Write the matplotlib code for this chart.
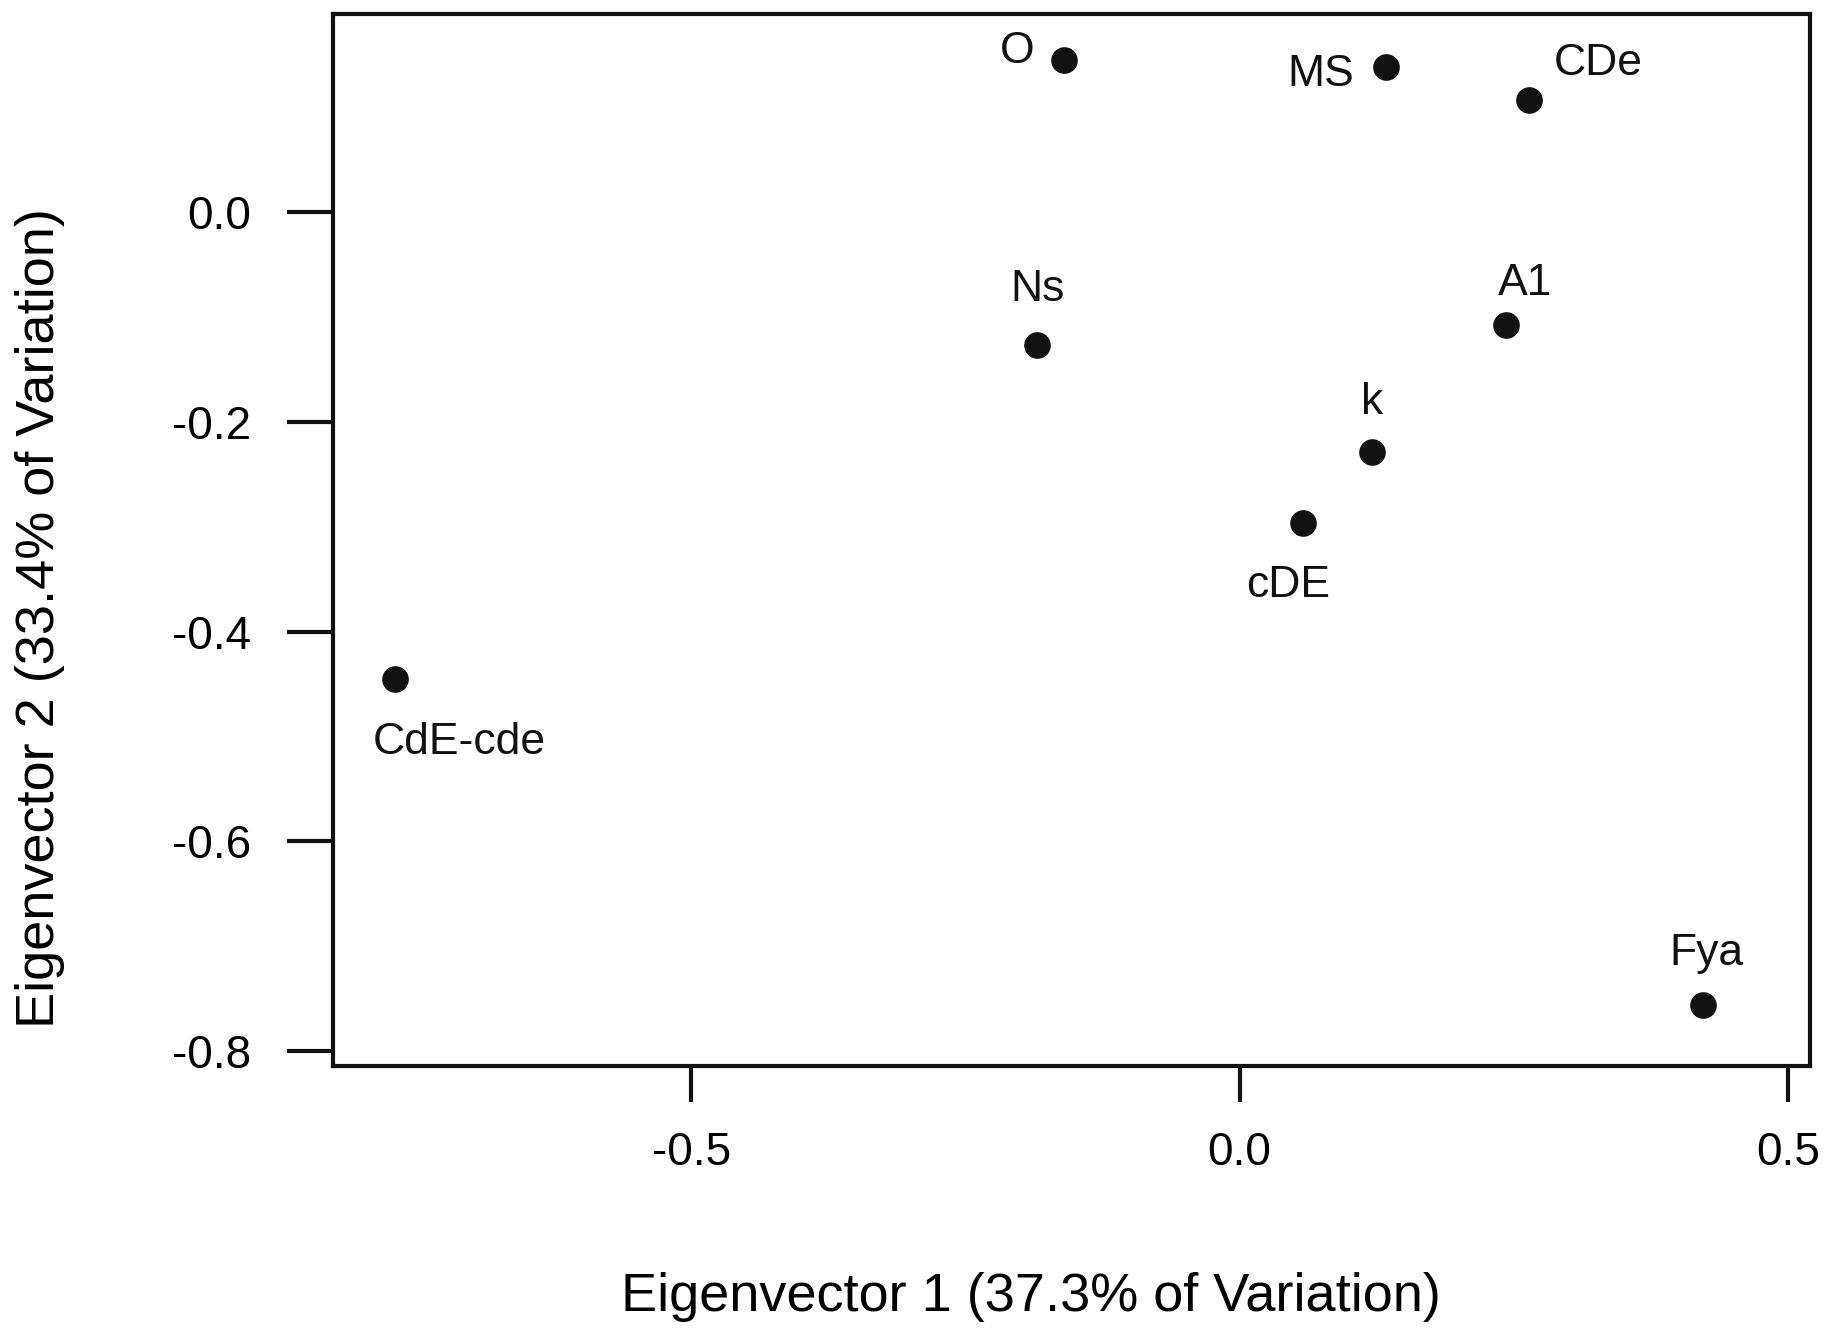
import numpy as np
import matplotlib
matplotlib.use("Agg")
import matplotlib.pyplot as plt

# eigenvector scores
names = ["O", "MS", "CDe", "Ns", "A1", "k", "cDE", "CdE-cde", "Fya"]
ev1 = [-0.160, 0.134, 0.264, -0.185, 0.243, 0.121, 0.058, -0.770, 0.423]
ev2 = [0.145, 0.138, 0.107, -0.127, -0.108, -0.229, -0.296, -0.445, -0.756]
# label offsets (points) from each dot
offsets = [(-34, 6), (-47, -5), (50, 26), (1, 40), (14, 30), (0, 36), (-11, -45), (46, -46), (2, 37)]

plt.rcParams['font.family'] = ['Liberation Sans', 'DejaVu Sans']

fig = plt.figure(figsize=(18.28, 13.34), dpi=100)
ax = fig.add_axes([0.182, 0.201, 0.808, 0.7885])

ax.scatter(ev1, ev2, s=330, color="#111111", zorder=3)
for n, x, y, (dx, dy) in zip(names, ev1, ev2, offsets):
    ax.annotate(n, (x, y), xytext=(dx, dy), textcoords="offset points",
                ha="center", va="center", fontsize=32, color="#111111")

ax.set_xlim(-0.827, 0.52)
ax.set_ylim(-0.814, 0.189)
ax.set_xticks([-0.5, 0.0, 0.5])
ax.set_xticklabels(["-0.5", "0.0", "0.5"])
ax.set_yticks([0.0, -0.2, -0.4, -0.6, -0.8])
ax.set_yticklabels(["0.0", "-0.2", "-0.4", "-0.6", "-0.8"])

for s in ax.spines.values():
    s.set_linewidth(3)
    s.set_color("#111111")
ax.tick_params(axis="x", length=26, width=3, labelsize=33, pad=21, color="#111111")
ax.tick_params(axis="y", length=33, width=3, labelsize=33, pad=26, color="#111111")

fig.text(0.564, 0.028, "Eigenvector 1 (37.3% of Variation)", ha="center", va="center", fontsize=39)
fig.text(0.022, 0.537, "Eigenvector 2 (33.4% of Variation)", ha="center", va="center",
         rotation=90, fontsize=39)

fig.savefig("out.png", dpi=100)
